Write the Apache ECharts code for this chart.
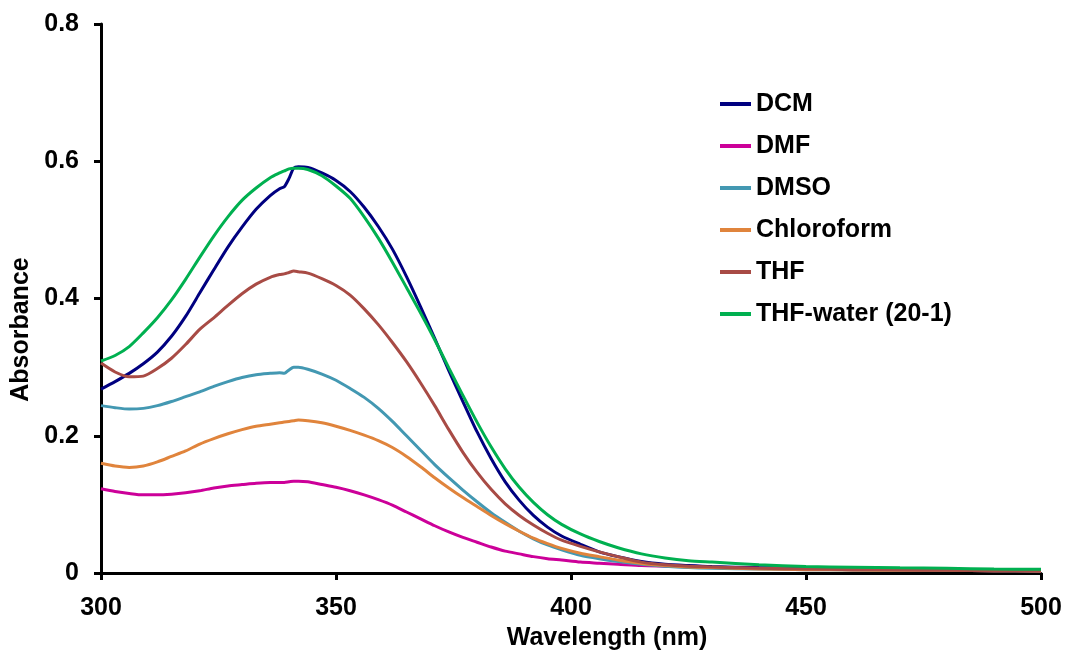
<!DOCTYPE html>
<html>
<head>
<meta charset="utf-8">
<script src="https://cdn.jsdelivr.net/npm/echarts@6/dist/echarts.min.js"></script>
<style>html,body{margin:0;padding:0;background:#fff}#c{width:1066px;height:656px}</style>
</head>
<body>
<div id="c"></div>
<script>
const wavelengths = [300,303,306,309,312,315,318,321,324,327,330,333,336,338,339,340,341,342,344,347,350,353,356,359,362,365,368,371,374,377,380,383,386,389,392,395,398,402,406,410,415,420,425,430,440,450,460,470,480,490,500];
const seriesNames = ["DCM","DMF","DMSO","Chloroform","THF","THF-water (20-1)"];
const dcm = [0.268,0.279,0.291,0.305,0.322,0.345,0.374,0.408,0.442,0.475,0.504,0.530,0.550,0.560,0.563,0.575,0.590,0.592,0.591,0.583,0.572,0.556,0.533,0.505,0.472,0.432,0.388,0.342,0.295,0.250,0.206,0.167,0.133,0.106,0.084,0.067,0.054,0.042,0.031,0.024,0.017,0.013,0.011,0.0095,0.008,0.007,0.006,0.005,0.0045,0.004,0.0035];
const dmf = [0.123,0.119,0.116,0.114,0.114,0.115,0.117,0.120,0.124,0.127,0.129,0.131,0.132,0.132,0.132,0.133,0.134,0.134,0.133,0.129,0.125,0.120,0.114,0.107,0.099,0.089,0.079,0.069,0.060,0.052,0.045,0.038,0.032,0.028,0.024,0.021,0.019,0.016,0.0145,0.013,0.011,0.010,0.009,0.008,0.007,0.006,0.005,0.0045,0.004,0.0035,0.003];
const dmso = [0.244,0.241,0.239,0.240,0.244,0.250,0.257,0.264,0.272,0.279,0.285,0.289,0.291,0.292,0.291,0.296,0.300,0.300,0.297,0.290,0.281,0.269,0.256,0.240,0.221,0.200,0.179,0.158,0.139,0.121,0.104,0.088,0.074,0.061,0.050,0.041,0.034,0.026,0.021,0.017,0.013,0.010,0.008,0.007,0.006,0.005,0.0045,0.004,0.004,0.0035,0.003];
const chloroform = [0.160,0.156,0.154,0.156,0.162,0.170,0.178,0.188,0.196,0.203,0.209,0.214,0.217,0.219,0.220,0.221,0.222,0.223,0.222,0.219,0.214,0.208,0.201,0.193,0.183,0.170,0.155,0.139,0.124,0.110,0.097,0.084,0.072,0.061,0.051,0.043,0.036,0.029,0.024,0.019,0.014,0.011,0.009,0.008,0.006,0.005,0.0045,0.004,0.004,0.0035,0.003];
const thf = [0.306,0.293,0.286,0.287,0.298,0.313,0.333,0.355,0.372,0.390,0.407,0.421,0.431,0.435,0.436,0.438,0.440,0.439,0.437,0.429,0.419,0.405,0.385,0.362,0.336,0.308,0.277,0.244,0.209,0.176,0.147,0.122,0.101,0.084,0.070,0.058,0.048,0.039,0.031,0.024,0.016,0.012,0.010,0.009,0.007,0.006,0.005,0.0045,0.004,0.0035,0.003];
const thfWater = [0.309,0.317,0.330,0.350,0.372,0.398,0.428,0.460,0.491,0.519,0.543,0.561,0.576,0.583,0.586,0.589,0.590,0.590,0.588,0.579,0.564,0.546,0.519,0.488,0.453,0.416,0.379,0.340,0.299,0.259,0.220,0.184,0.152,0.125,0.103,0.085,0.071,0.057,0.046,0.037,0.028,0.022,0.018,0.016,0.012,0.0095,0.0085,0.0077,0.007,0.006,0.0055];
const xTicks = [300,350,400,450,500];
const yTicks = [0,0.2,0.4,0.6,0.8];

const colors = ["#000080","#CC0099","#4398B2","#E0843C","#A84B45","#00B050"];
const allValues = [dcm,dmf,dmso,chloroform,thf,thfWater];
const font = "Liberation Sans, Arial, sans-serif";
const fs = 25;

const chart = echarts.init(document.getElementById('c'), null, {renderer:'canvas'});
chart.setOption({
  animation:false,
  backgroundColor:'#fff',
  grid:{left:101,right:25,top:24,bottom:82,containLabel:false},
  legend:{
    orient:'vertical', left:715, top:86, itemGap:16, itemWidth:31, itemHeight:4, icon:'rect',
    textStyle:{fontFamily:font,fontWeight:'bold',fontSize:fs,color:'#000',lineHeight:26},
    data:seriesNames
  },
  xAxis:{
    type:'value', min:xTicks[0], max:xTicks[xTicks.length-1], interval:50,
    name:'Wavelength (nm)', nameLocation:'middle', nameGap:36,
    nameTextStyle:{fontFamily:font,fontWeight:'bold',fontSize:fs,color:'#000',padding:[0,0,0,72]},
    axisLine:{lineStyle:{color:'#000',width:3}},
    axisTick:{show:true,length:7,lineStyle:{color:'#000',width:3}},
    axisLabel:{fontFamily:font,fontWeight:'bold',fontSize:fs,color:'#000',margin:23},
    splitLine:{show:false}
  },
  yAxis:{
    type:'value', min:yTicks[0], max:yTicks[yTicks.length-1], interval:0.2,
    name:'Absorbance', nameLocation:'middle', nameGap:64, nameRotate:90,
    nameTextStyle:{fontFamily:font,fontWeight:'bold',fontSize:fs,color:'#000',padding:[0,62,0,0]},
    axisLine:{show:true,lineStyle:{color:'#000',width:3}},
    axisTick:{show:true,length:7,lineStyle:{color:'#000',width:3}},
    axisLabel:{fontFamily:font,fontWeight:'bold',fontSize:fs,color:'#000',margin:22,
      formatter:v=> v===0 ? '0' : v.toFixed(1)},
    splitLine:{show:false}
  },
  series: seriesNames.map((n,i)=>({
    name:n, type:'line', showSymbol:false, smooth:0.25, z: 10,
    lineStyle:{width:3,color:colors[i]}, itemStyle:{color:colors[i]},
    data: wavelengths.map((w,j)=>[w, allValues[i][j]])
  }))
});
</script>
</body>
</html>
